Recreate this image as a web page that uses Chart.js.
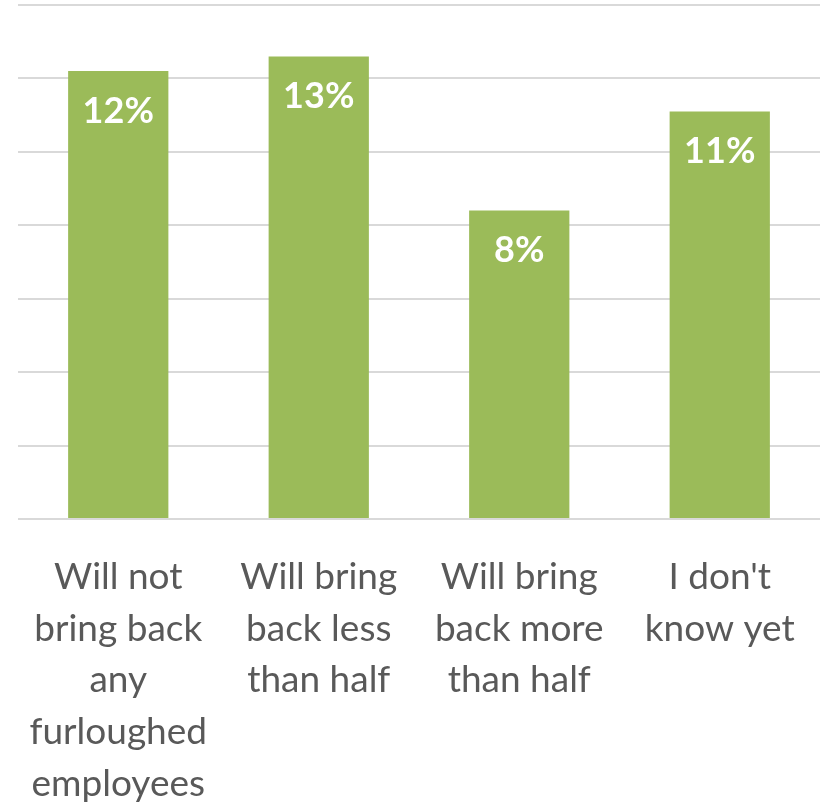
<!DOCTYPE html>
<html>
<head>
<meta charset="utf-8">
<script src="https://cdn.jsdelivr.net/npm/chart.js@4"></script>
<style>
  html, body { margin: 0; padding: 0; background: #fff; }
  #wrap { width: 820px; height: 808px; }
</style>
</head>
<body>
<div id="wrap"><canvas id="grafico"></canvas></div>
<script>
// dados
const categorias = [
  ['Will not', 'bring back', 'any', 'furloughed', 'employees'],
  ['Will bring', 'back less', 'than half'],
  ['Will bring', 'back more', 'than half'],
  ["I don't", 'know yet']
];
const valores = [12.2, 12.6, 8.4, 11.1];
const rotulos = ['12%', '13%', '8%', '11%'];

// rotulos dentro das barras
const rotulosBarras = {
  id: 'rotulosBarras',
  afterDatasetsDraw(chart) {
    const ctx = chart.ctx;
    const meta = chart.getDatasetMeta(0);
    ctx.save();
    ctx.fillStyle = '#ffffff';
    ctx.font = 'bold 36px Lato';
    ctx.textAlign = 'center';
    ctx.textBaseline = 'middle';
    meta.data.forEach((bar, i) => {
      ctx.fillText(rotulos[i], bar.x, bar.y + 40);
    });
    ctx.restore();
  }
};

new Chart(document.getElementById('grafico'), {
  type: 'bar',
  data: {
    labels: categorias,
    datasets: [{
      data: valores,
      backgroundColor: '#9bbb59',
      borderWidth: 0,
      categoryPercentage: 1,
      barPercentage: 0.5
    }]
  },
  options: {
    responsive: true,
    maintainAspectRatio: false,
    animation: false,
    layout: { padding: { left: 18, top: 5, right: 0, bottom: 0 } },
    plugins: {
      legend: { display: false },
      tooltip: { enabled: false }
    },
    scales: {
      x: {
        grid: { display: false },
        border: { display: false },
        ticks: {
          color: '#595959',
          font: { family: 'Lato', size: 37, lineHeight: 1.4 },
          padding: 24,
          maxRotation: 0,
          autoSkip: false
        },
        afterFit(scale) { scale.height = 289; }
      },
      y: {
        min: 0,
        max: 14,
        ticks: { display: false, stepSize: 2 },
        border: { display: false },
        grid: { color: '#d9d9d9', lineWidth: 2, drawTicks: false }
      }
    }
  },
  plugins: [rotulosBarras]
});
</script>
</body>
</html>
